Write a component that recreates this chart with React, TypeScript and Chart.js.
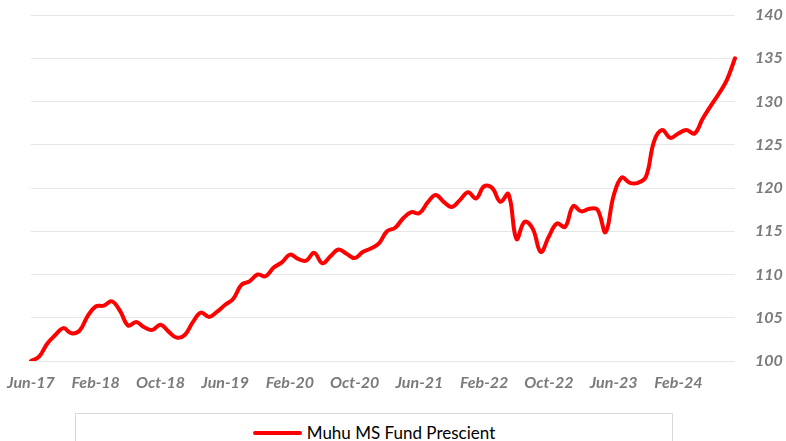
import React, { useEffect, useRef } from "react";
import { Chart, registerables } from "chart.js";

Chart.register(...registerables);

const MONTH_NAMES = ["Jan", "Feb", "Mar", "Apr", "May", "Jun", "Jul", "Aug", "Sep", "Oct", "Nov", "Dec"];
const START_MONTH = 5; // Jun
const START_YEAR = 17;
const POINT_COUNT = 88; // Jun-17 .. Sep-24

const categories: string[] = Array.from({ length: POINT_COUNT }, (_, i) => {
  const m = (START_MONTH + i) % 12;
  const y = START_YEAR + Math.floor((START_MONTH + i) / 12);
  return `${MONTH_NAMES[m]}-${y}`;
});

const xTickLabels = ["Jun-17", "Feb-18", "Oct-18", "Jun-19", "Feb-20", "Oct-20", "Jun-21", "Feb-22", "Oct-22", "Jun-23", "Feb-24"];

const seriesName = "Muhu MS Fund Prescient";
const seriesValues = [
  100.0, 100.5, 102.0, 103.0, 103.8, 103.2, 103.5, 105.2, 106.3, 106.4,
  106.9, 105.8, 104.1, 104.5, 103.9, 103.6, 104.2, 103.4, 102.7, 103.0,
  104.5, 105.6, 105.1, 105.7, 106.5, 107.2, 108.8, 109.2, 110.0, 109.8,
  110.8, 111.4, 112.3, 111.8, 111.6, 112.5, 111.3, 112.1, 112.9, 112.4,
  111.9, 112.6, 113.0, 113.6, 115.0, 115.4, 116.5, 117.2, 117.1, 118.3,
  119.2, 118.4, 117.8, 118.6, 119.5, 118.8, 120.2, 120.0, 118.4, 119.3,
  114.1, 116.1, 115.3, 112.6, 114.4, 115.9, 115.5, 117.9, 117.3, 117.6,
  117.5, 114.9, 119.1, 121.2, 120.6, 120.6, 121.3, 125.4, 126.7, 125.8,
  126.3, 126.7, 126.3, 128.0, 129.5, 130.9, 132.5, 135.0,
];

const yMin = 100;
const yMax = 140;
const yStep = 5;

const tickFont = { family: "Lato", size: 16, weight: "bold" as const, style: "italic" as const };
const tickColor = "#7a7a7a";
const lineColor = "#ff0000";

export default function App() {
  const canvasRef = useRef<HTMLCanvasElement | null>(null);

  useEffect(() => {
    if (!canvasRef.current) return;
    const chart = new Chart(canvasRef.current, {
      type: "line",
      data: {
        labels: categories,
        datasets: [
          {
            label: seriesName,
            data: seriesValues,
            borderColor: lineColor,
            backgroundColor: lineColor,
            borderWidth: 4,
            pointRadius: 0,
            tension: 0.4,
            borderCapStyle: "round",
            borderJoinStyle: "round",
          },
        ],
      },
      options: {
        animation: false,
        responsive: false,
        devicePixelRatio: 1,
        layout: { padding: { left: 31, top: 15, right: 0, bottom: 0 } },
        plugins: {
          legend: { display: false },
          tooltip: { enabled: false },
          title: { display: false },
        },
        scales: {
          x: {
            type: "category",
            offset: false,
            grid: { display: false, drawTicks: false },
            border: { display: false },
            ticks: {
              autoSkip: false,
              maxRotation: 0,
              minRotation: 0,
              padding: 12,
              color: tickColor,
              font: tickFont,
              callback: (_v: any, index: number) =>
                xTickLabels.includes(categories[index]) ? categories[index] : "",
            },
            afterFit: (scale: any) => {
              scale.height = 80;
              scale.paddingLeft = 0;
              scale.paddingRight = 0;
            },
          },
          y: {
            position: "right",
            min: yMin,
            max: yMax,
            grid: { color: "#e6e6e6", lineWidth: 1, drawTicks: false },
            border: { display: false },
            ticks: {
              stepSize: yStep,
              padding: 20,
              color: tickColor,
              font: tickFont,
            },
            afterFit: (scale: any) => {
              scale.width = 51;
              scale.paddingTop = 0;
              scale.paddingBottom = 0;
            },
          },
        },
      },
    });
    return () => chart.destroy();
  }, []);

  return (
    <div
      style={{
        position: "fixed",
        left: 0,
        top: 0,
        width: 786,
        height: 441,
        overflow: "hidden",
        background: "#ffffff",
      }}
    >
      <canvas ref={canvasRef} width={786} height={441} style={{ display: "block" }} />
      <div
        style={{
          position: "absolute",
          left: 75,
          top: 413,
          width: 598,
          height: 40,
          border: "1px solid #d9d9d9",
          boxSizing: "border-box",
          background: "#ffffff",
        }}
      >
        <div
          style={{
            position: "absolute",
            left: 0,
            right: 0,
            top: 9,
            display: "flex",
            justifyContent: "center",
            alignItems: "center",
            fontFamily: "Lato, sans-serif",
            fontSize: 17,
            color: "#000000",
            lineHeight: "20px",
          }}
        >
          <span
            style={{
              display: "inline-block",
              width: 49,
              height: 4,
              background: lineColor,
              borderRadius: 2,
              marginRight: 5,
            }}
          />
          <span>{seriesName}</span>
        </div>
      </div>
    </div>
  );
}
